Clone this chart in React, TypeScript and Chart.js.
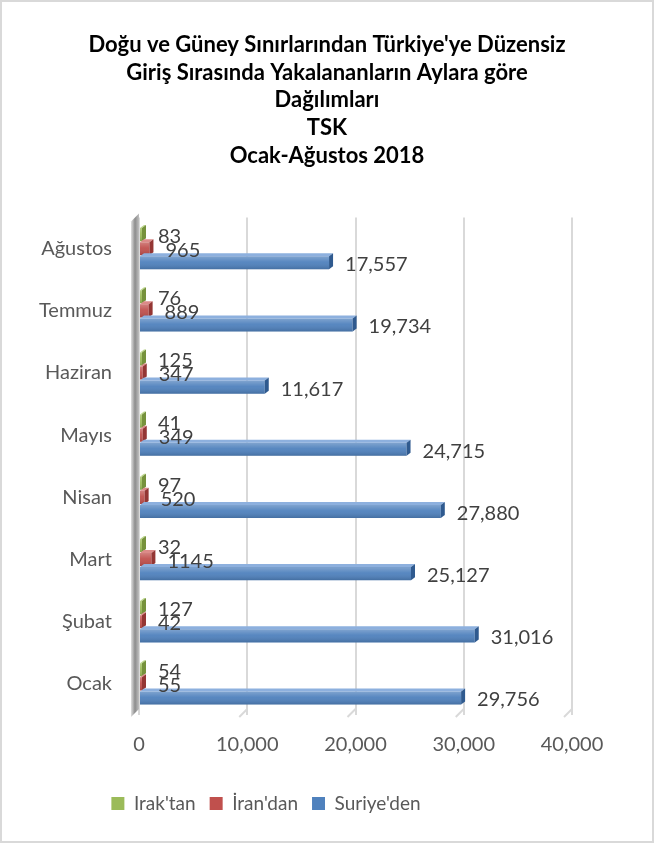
import React, { useEffect, useRef } from 'react';
import { Chart, registerables } from 'chart.js';

Chart.register(...registerables);

const months = ['Ocak', 'Şubat', 'Mart', 'Nisan', 'Mayıs', 'Haziran', 'Temmuz', 'Ağustos'];
const irak = [54, 127, 32, 97, 41, 125, 76, 83];
const iran = [55, 42, 1145, 520, 349, 347, 889, 965];
const suriye = [29756, 31016, 25127, 27880, 24715, 11617, 19734, 17557];
const seriesNames = ["Irak'tan", "İran'dan", "Suriye'den"];
const labelFormats = ['plain', 'plain', 'comma'];
const xMax = 40000;
const xStep = 10000;
const titleLines = [
  "Doğu ve Güney Sınırlarından Türkiye'ye Düzensiz",
  'Giriş Sırasında Yakalananların Aylara göre',
  'Dağılımları',
  'TSK',
  'Ocak-Ağustos 2018',
];

const FONT = 'Lato, "Open Sans", sans-serif';
const faces = [
  { front: '#9bbb59', top: '#bcd68a', side: '#76923c' },
  { front: '#c0504d', top: '#dc8a88', side: '#943634' },
  { front: '#4f81bd', top: '#8db0de', side: '#2f5a8f' },
];
const DX = 4;
const DY = 3;
const LEGEND_CENTER = 266;

const borderPlugin = {
  id: 'outerBorder',
  afterDraw(chart: any) {
    const { ctx, width, height } = chart;
    ctx.save();
    ctx.strokeStyle = '#d9d9d9';
    ctx.lineWidth = 2;
    ctx.strokeRect(1, 1, width - 2, height - 2);
    ctx.restore();
  },
};

const legendShiftPlugin = {
  id: 'legendShift',
  afterLayout(chart: any) {
    const lg = chart.legend;
    if (!lg) return;
    const half = (lg.right - lg.left) / 2;
    lg.left = LEGEND_CENTER - half;
    lg.right = LEGEND_CENTER + half;
  },
};

const wallPlugin = {
  id: 'leftWall',
  beforeDatasetsDraw(chart: any) {
    const { ctx, chartArea } = chart;
    const l = chartArea.left;
    ctx.save();
    const g = ctx.createLinearGradient(l - 8, 0, l, 0);
    g.addColorStop(0, '#e0e0e0');
    g.addColorStop(0.5, '#8c8c8c');
    g.addColorStop(1, '#bfbfbf');
    ctx.fillStyle = g;
    ctx.beginPath();
    ctx.moveTo(l - 8, chartArea.top + 4);
    ctx.lineTo(l, chartArea.top - 4);
    ctx.lineTo(l, chartArea.bottom - 6);
    ctx.lineTo(l - 8, chartArea.bottom + 2);
    ctx.closePath();
    ctx.fill();
    const xs = chart.scales.x;
    ctx.strokeStyle = '#d9d9d9';
    ctx.lineWidth = 2;
    xs.ticks.forEach((t: any) => {
      const px = xs.getPixelForValue(t.value);
      if (px <= l + 1) return;
      ctx.beginPath();
      ctx.moveTo(px, chartArea.bottom - 6);
      ctx.lineTo(px - 8, chartArea.bottom + 2);
      ctx.stroke();
    });
    ctx.restore();
  },
};

const bar3dPlugin = {
  id: 'bar3d',
  afterDatasetsDraw(chart: any) {
    const { ctx } = chart;
    for (let di = 0; di < chart.data.datasets.length; di++) {
      const meta = chart.getDatasetMeta(di);
      const c = faces[di];
      meta.data.forEach((el: any) => {
        const { x, y, base, height } = el.getProps(['x', 'y', 'base', 'height'], true);
        const t = y - height / 2;
        const b = y + height / 2;
        const x0 = Math.min(base, x);
        const x1 = Math.max(base, x);
        ctx.save();
        const g = ctx.createLinearGradient(0, t, 0, b);
        g.addColorStop(0, 'rgba(255,255,255,0.28)');
        g.addColorStop(0.45, 'rgba(255,255,255,0.05)');
        g.addColorStop(1, 'rgba(0,0,0,0.15)');
        ctx.fillStyle = g;
        ctx.fillRect(x0, t, x1 - x0, b - t);
        ctx.fillStyle = c.top;
        ctx.beginPath();
        ctx.moveTo(x0, t);
        ctx.lineTo(x0 + DX, t - DY);
        ctx.lineTo(x1 + DX, t - DY);
        ctx.lineTo(x1, t);
        ctx.closePath();
        ctx.fill();
        ctx.fillStyle = c.side;
        ctx.beginPath();
        ctx.moveTo(x1, t);
        ctx.lineTo(x1 + DX, t - DY);
        ctx.lineTo(x1 + DX, b - DY);
        ctx.lineTo(x1, b);
        ctx.closePath();
        ctx.fill();
        ctx.restore();
      });
    }
    ctx.save();
    ctx.font = `20px ${FONT}`;
    ctx.fillStyle = '#404040';
    ctx.textAlign = 'left';
    ctx.textBaseline = 'middle';
    for (let di = 0; di < chart.data.datasets.length; di++) {
      const meta = chart.getDatasetMeta(di);
      const data = chart.data.datasets[di].data;
      meta.data.forEach((el: any, i: number) => {
        const { x, y } = el.getProps(['x', 'y'], true);
        const v = data[i] as number;
        const txt = labelFormats[di] === 'comma' ? v.toLocaleString('en-US') : String(v);
        ctx.fillText(txt, x + DX + 12, y + 2);
      });
    }
    ctx.restore();
  },
};

export default function App() {
  const ref = useRef<HTMLCanvasElement>(null);
  useEffect(() => {
    document.body.style.margin = '0';
    const chart = new Chart(ref.current!, {
      type: 'bar',
      data: {
        labels: months,
        datasets: [irak, iran, suriye].map((d, i) => ({
          label: seriesNames[i],
          data: d,
          backgroundColor: faces[i].front,
          borderWidth: 0,
          minBarLength: 3,
          categoryPercentage: 0.68,
          barPercentage: 0.93,
        })),
      },
      options: {
        indexAxis: 'y',
        animation: false,
        responsive: false,
        locale: 'en-US',
        layout: { padding: { top: 31, right: 0, bottom: 20, left: 0 } },
        plugins: {
          title: {
            display: true,
            text: titleLines,
            color: '#000000',
            font: { family: FONT, size: 22, weight: 'bold', lineHeight: 1.26 },
            padding: { top: 0, bottom: 48 },
          },
          legend: {
            position: 'bottom',
            labels: {
              boxWidth: 13,
              boxHeight: 13,
              color: '#595959',
              font: { family: FONT, size: 19 },
              padding: 14,
            },
          },
          tooltip: { enabled: false },
        },
        scales: {
          x: {
            min: 0,
            max: xMax,
            ticks: {
              stepSize: xStep,
              color: '#595959',
              font: { family: FONT, size: 20 },
              padding: 18,
            },
            grid: { color: '#d9d9d9', lineWidth: 2, drawTicks: false },
            border: { display: false },
            afterFit: (s: any) => {
              s.height = 65;
            },
          },
          y: {
            reverse: true,
            ticks: {
              color: '#595959',
              font: { family: FONT, size: 20 },
              padding: 27,
            },
            grid: { display: false, drawTicks: false },
            border: { display: false },
            afterFit: (s: any) => {
              s.width = 139;
            },
          },
          spacer: {
            type: 'linear',
            position: 'right',
            display: true,
            ticks: { display: false },
            grid: { display: false, drawTicks: false },
            border: { display: false },
            afterFit: (s: any) => {
              s.width = 82;
            },
          },
        },
      },
      plugins: [legendShiftPlugin, wallPlugin, bar3dPlugin, borderPlugin],
    });
    return () => chart.destroy();
  }, []);
  return (
    <div style={{ width: 654, height: 843, background: '#ffffff' }}>
      <canvas ref={ref} width={654} height={843} style={{ display: 'block' }} />
    </div>
  );
}
